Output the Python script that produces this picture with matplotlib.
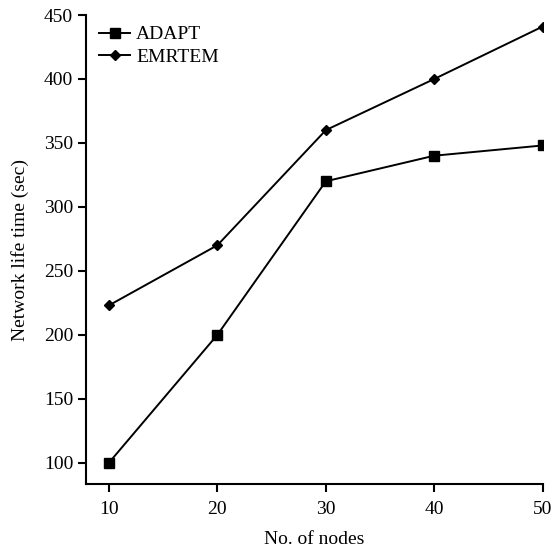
import matplotlib
matplotlib.use("Agg")
import matplotlib.pyplot as plt

nodes = [10, 20, 30, 40, 50]
adapt = [100, 200, 320, 340, 348]
emrtem = [223, 270, 360, 400, 441]
xticks = [10, 20, 30, 40, 50]
yticks = [100, 150, 200, 250, 300, 350, 400, 450]

plt.rcParams['font.family'] = ['Liberation Serif', 'DejaVu Serif']

fig = plt.figure(figsize=(5.54, 5.56), dpi=100)
ax = fig.add_axes([0.1547, 0.1295, 0.9796 - 0.1547, 0.973 - 0.1295])

ax.plot(nodes, adapt, color='black', lw=1.4, marker='s', markersize=7.5, label='ADAPT')
ax.plot(nodes, emrtem, color='black', lw=1.4, marker='D', markersize=5, label='EMRTEM')

ax.set_xlim(7.85, 50)
ax.set_ylim(83.3, 450)
ax.set_xticks(xticks)
ax.set_yticks(yticks)
ax.spines['top'].set_visible(False)
ax.spines['right'].set_visible(False)
for s in ['left', 'bottom']:
    ax.spines[s].set_linewidth(1.5)
ax.tick_params(direction='out', length=5.5, width=1.5, labelsize=14)
ax.tick_params(axis='x', pad=7)
ax.tick_params(axis='y', pad=3.5)
ax.set_xlabel('No. of nodes', fontsize=14, labelpad=9)
ax.set_ylabel('Network life time (sec)', fontsize=14, labelpad=11)

ax.legend(loc='upper left', frameon=False, fontsize=14, handlelength=1.6,
          handletextpad=0.3, labelspacing=0.25, bbox_to_anchor=(0.0, 1.006), borderaxespad=0.3)

fig.savefig('out.png', dpi=100)
